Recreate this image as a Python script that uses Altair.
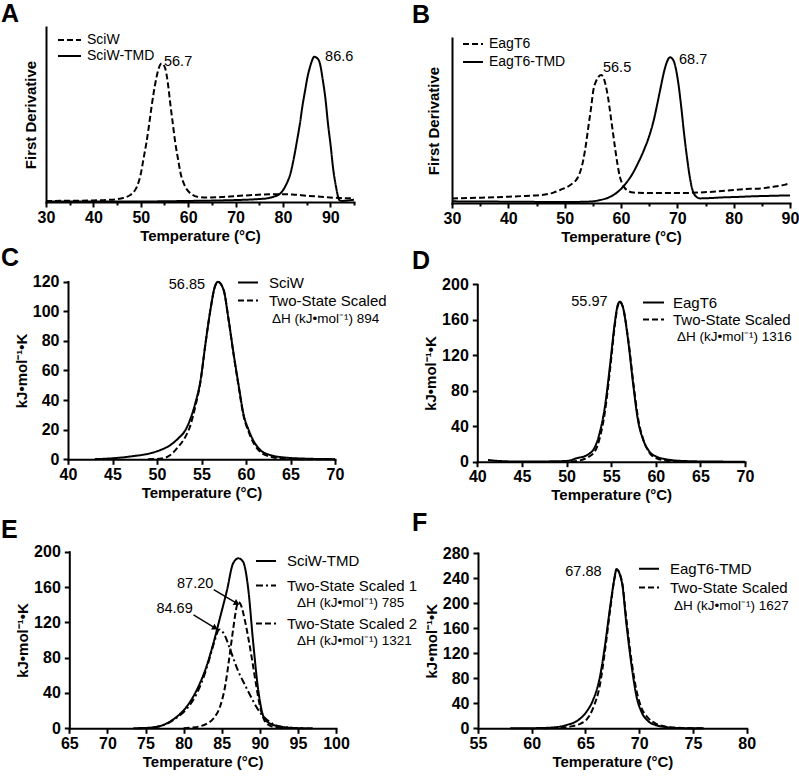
import altair as alt
import pandas as pd

FONT = "Liberation Sans"
INK = "black"

# line styles
SOLID = [1, 0]
DASHED = [6, 3]
DASH_DOT = [7, 3, 2, 3]

# ---------------- A: first derivative, SciW / SciW-TMD ----------------
a_t_sciw = [30, 35, 40, 43, 45, 46.5, 47.8, 48.6, 49.2, 50.0, 50.6, 51.2, 51.7, 52.2, 52.7,
            53.3, 53.8, 54.4, 55.0, 55.4, 55.9, 56.3, 56.8, 57.3, 57.9, 58.4, 59.1, 59.8, 60.8,
            61.9, 64, 67, 70, 73, 76, 79, 82, 85, 88, 91, 95]
a_sciw = [0.6, 0.7, 0.9, 1.2, 1.6, 2.5, 4.0, 6.0, 8.8, 16, 25, 34, 43, 53, 62,
          71, 76.5, 79.2, 77.5, 73.5, 64, 54.5, 44, 33.5, 24, 16.4, 10.5, 6.9, 4.3,
          3.0, 2.6, 2.8, 3.4, 3.9, 4.3, 4.5, 4.3, 3.6, 3.0, 2.4, 2.1]
a_t_tmd = [30, 40, 50, 60, 65, 70, 73, 75, 76.7, 78, 79.5, 80.6, 81.6, 82.3, 83.0, 83.6, 84.1,
           84.7, 85.2, 85.7, 86.1, 86.6, 87.3, 87.8, 88.4, 89.0, 89.5, 90.1, 90.6, 91.2, 91.6,
           91.9, 92.5, 93.5, 95]
a_tmd = [0.3, 0.3, 0.3, 0.6, 0.8, 1.1, 1.4, 1.7, 2.1, 3.0, 5.0, 9.5, 16.4, 25, 35.4, 45, 54.5,
         64, 71.6, 77, 80.5, 83, 82, 79.2, 70, 58.3, 45, 31.6, 19, 8.8, 3.5,
         1.1, 0.6, 0.8, 1.3]
a_note_t = [54.9, 88.9]
a_note_v = [80, 82.9]
a_note_txt = ["56.7", "86.6"]

# ---------------- B: first derivative, EagT6 / EagT6-TMD ----------------
b_t_eag = [30, 35, 40, 43, 45.7, 48, 49.2, 51.0, 52.4, 53.3, 53.8, 54.2, 54.7, 55.1, 55.6,
           56.0, 56.5, 56.9, 57.2, 57.7, 58.1, 58.6, 59.0, 59.4, 59.8, 60.4, 61.0, 62.2, 65,
           70, 74, 77, 80, 83, 85, 87, 89, 90]
b_eag = [2.8, 3.2, 3.8, 4.3, 4.8, 6.3, 7.9, 10.9, 15.9, 26, 36, 46, 58, 68.5, 74,
         76.5, 77.6, 76, 72.5, 64, 54.4, 42, 32, 23, 15.9, 10.5, 7.9, 6.3, 6.0,
         6.0, 6.4, 7.0, 7.9, 8.6, 8.9, 9.8, 11.0, 11.9]
b_t_tmd = [30, 40, 50, 54, 56.3, 58.1, 60.0, 61.0, 62.0, 63.0, 64.0, 65.0, 65.8, 66.5,
           67.1, 67.6, 68.1, 68.7, 69.3, 69.7, 70.2, 70.7, 71.2, 71.7, 72.2, 72.6, 73.1,
           74.0, 76, 78, 80, 83, 86, 90]
b_tmd = [1.0, 0.8, 0.6, 0.8, 1.8, 3.8, 8.5, 12.5, 17.5, 24, 31.5, 40.5, 50, 61,
         71, 79, 85, 88.3, 86.5, 82, 72, 58, 42, 28, 16, 9, 4.8,
         2.8, 3.0, 3.4, 3.6, 4.0, 4.3, 4.6]
b_note_t = [56.8, 70.3]
b_note_v = [81.8, 86.7]
b_note_txt = ["56.5", "68.7"]

# ---------------- C: DSC, SciW with two-state fit ----------------
c_t_sciw = [43, 45, 47.4, 49.2, 50.4, 51.5, 52.4, 53.2, 53.7, 54.3, 54.9, 55.4, 56.0, 56.5,
            56.85, 57.5, 58.0, 58.6, 59.2, 59.7, 60.3, 60.9, 61.6, 62.7, 64.2, 66.9, 70]
c_sciw = [0.1, 0.7, 2.2, 4.0, 6.3, 9.6, 14.2, 19.8, 26.5, 37.8, 53.5, 76, 100.8, 116.5,
          119.8, 114, 96, 71.5, 49, 31, 19.8, 11.9, 6.3, 2.9, 1.3, 0.4, 0.1]
c_t_fit = [49, 50.5, 51.5, 52.4, 53.2, 53.7, 54.3, 54.9, 55.4, 56.0, 56.5, 56.85, 57.5, 58.0,
           58.6, 59.2, 59.7, 60.3, 60.9, 61.6, 62.7, 64.2, 66, 70]
c_fit = [0.0, 0.5, 2.9, 8.5, 15.3, 22, 35.5, 53, 76, 100.8, 116.5, 119.8, 114, 96,
         71, 48, 30, 18.5, 10.5, 5, 1.8, 0.5, 0.1, 0.0]
c_note_t = [55.4]
c_note_v = [117.6]
c_note_txt = ["56.85"]

# ---------------- D: DSC, EagT6 with two-state fit ----------------
d_t_eag = [41.2, 42.5, 44, 47, 50.0, 51.1, 52.3, 53.2, 53.7, 54.3, 54.9, 55.4, 55.7, 55.97,
           56.3, 56.9, 57.5, 58.0, 58.6, 59.3, 60.1, 61.2, 63.1, 66, 70]
d_eag = [1.9, 0.8, 0.3, 0.3, 0.8, 3.8, 7.5, 17, 32, 62, 111, 156, 175, 180.4,
         174.8, 137, 84.6, 47, 24.5, 11.3, 5.6, 2.7, 0.8, 0.2, 0.0]
d_t_fit = [50.5, 51.5, 52.3, 53.2, 53.7, 54.3, 54.9, 55.4, 55.7, 55.97, 56.3, 56.9, 57.5, 58.0,
           58.6, 59.3, 60.1, 61.2, 62.5, 64]
d_fit = [0.3, 1.5, 4.5, 12, 26, 56, 106, 153, 174, 180, 175, 139, 88, 50,
         25, 10, 3.8, 1.2, 0.3, 0.0]
d_note_t = [54.6]
d_note_v = [180]
d_note_txt = ["55.97"]

# ---------------- E: DSC, SciW-TMD with two two-state components ----------------
e_t_tmd = [73.4, 75.6, 77.8, 79.1, 80.4, 81.7, 83.0, 83.9, 84.8, 85.7, 86.5, 87.2, 87.8, 88.5,
           89.1, 89.8, 90.5, 91.3, 92.7, 94.4, 96]
e_tmd = [0.0, 0.7, 5.6, 13, 24.5, 43, 70, 96, 126, 156.6, 186.9, 192.5, 188.7, 156.6,
         100, 43, 13, 5.6, 1.9, 0.4, 0.0]
e_t_fit1 = [74, 76, 78, 79.1, 80.4, 81.7, 82.5, 83.3, 84.0, 84.69, 85.3, 86.0, 86.5, 87.2, 88.0,
            88.7, 89.5, 90.2, 90.9, 91.8, 93.1, 95, 97]
e_fit1 = [0.0, 1.0, 6.0, 12, 22, 39, 55, 76, 97, 112, 107, 92, 80, 64, 50,
          38, 25, 16, 10, 4.5, 1.5, 0.3, 0.0]
e_t_fit2 = [80, 81, 82, 83, 84, 84.8, 85.5, 86.0, 86.5, 87.0, 87.2, 87.5, 88.0, 88.5, 89.0,
            89.5, 90.0, 90.5, 91.0, 92.0, 93]
e_fit2 = [0.0, 0.8, 2.0, 5.0, 12, 25, 50, 80, 112, 139, 143, 140, 124, 102, 77,
          50, 26, 11, 4.5, 1.0, 0.0]
e_note_t = [83.9, 81.2]
e_note_v = [163.4, 135]
e_note_txt = ["87.20", "84.69"]
# leader arrows from the Tm labels to the component peaks
e_arrow_t = [83.95, 81.3]
e_arrow_v = [157, 128.5]
e_arrow_t2 = [87.0, 84.15]
e_arrow_v2 = [141.5, 113.5]
e_arrow_angle = [29, 32]

# ---------------- F: DSC, EagT6-TMD with two-state fit ----------------
f_t_tmd = [58, 60, 61.7, 63.25, 64.2, 65.1, 65.7, 66.35, 66.8, 67.3, 67.7, 67.88, 68.4, 68.8,
           69.3, 69.75, 70.2, 70.8, 71.6, 72.55, 74, 76]
f_tmd = [0.0, 0.2, 1.0, 5.3, 11.7, 26.6, 45, 82.6, 130.6, 194.6, 240, 254, 232, 168,
         98.6, 50.6, 26.6, 12, 4.7, 1.9, 0.3, 0.0]
f_t_fit = [61, 62.5, 63.8, 64.6, 65.1, 65.7, 66.35, 66.8, 67.3, 67.7, 67.88, 68.4, 68.8, 69.3,
           69.75, 70.2, 70.8, 71.6, 72.5, 74, 76]
f_fit = [0.0, 0.8, 3.5, 8, 14, 32, 70, 122, 190, 240, 254, 234, 175, 106,
         60, 33, 17, 7, 2.5, 0.5, 0.0]
f_note_t = [66.5]
f_note_v = [250]
f_note_txt = ["67.88"]

TEMP_TITLE = "Temperature (°C)"
CP_TITLE = "kJ•mol⁻¹•K"


def x_axis(offset, values, labels=True, tick=5, domain=True, title=TEMP_TITLE):
    return alt.Axis(
        values=values, orient="bottom", offset=offset, grid=False, labels=labels, domain=domain,
        domainColor=INK, domainWidth=2, domainCap="square", tickColor=INK, tickWidth=2,
        tickSize=tick, labelFont=FONT, labelFontSize=16, labelFontWeight="bold",
        labelColor=INK, labelPadding=2, labelFlush=False, labelOverlap=False,
        title=title, titleFont=FONT, titleFontSize=15, titleFontWeight="bold",
        titleColor=INK, titlePadding=3,
    )


def y_axis(offset, title, values=None, title_pad=3):
    opts = dict(
        orient="left", offset=offset, grid=False, domainColor=INK, domainWidth=2,
        domainCap="square", tickColor=INK, tickWidth=2, tickSize=5, labelFont=FONT,
        labelFontSize=16, labelFontWeight="bold", labelColor=INK, labelPadding=4,
        labelFlush=False, labelOverlap=False, title=title, titleFont=FONT,
        titleFontSize=15, titleFontWeight="bold", titleColor=INK, titlePadding=title_pad,
    )
    if values is None:
        opts.update(labels=False, ticks=False)
    else:
        opts.update(values=values)
    return alt.Axis(**opts)


def key(x, y, length, gap, size=15):
    return alt.Legend(
        orient="none", legendX=x, legendY=y, title=None, symbolType="stroke",
        symbolSize=length * length, symbolStrokeWidth=2, symbolStrokeColor=INK,
        labelFont=FONT, labelFontSize=size, labelColor=INK, labelOffset=gap, padding=0,
    )


def curve(temps, vals, name, dash, xs, ys, legend, xa=None, ya=None):
    df = pd.DataFrame({"t": temps, "v": vals, "series": name})
    return alt.Chart(df).mark_line(color=INK, strokeWidth=2, interpolate="monotone").encode(
        x=alt.X("t:Q", scale=xs, axis=xa),
        y=alt.Y("v:Q", scale=ys, axis=ya),
        strokeDash=alt.StrokeDash("series:N", scale=alt.Scale(domain=[name], range=[dash]),
                                  legend=legend),
    )


def notes(temps, vals, texts, xs, ys, align):
    df = pd.DataFrame({"t": temps, "v": vals, "label": texts})
    return alt.Chart(df).mark_text(font=FONT, fontSize=14.5, color=INK, align=align,
                                   baseline="middle").encode(
        x=alt.X("t:Q", scale=xs, axis=None),
        y=alt.Y("v:Q", scale=ys, axis=None),
        text="label:N",
    )


def caption(text, px, py):
    return alt.Chart(pd.DataFrame({"c": [text]})).mark_text(
        font=FONT, fontSize=13.5, color=INK, align="left", baseline="middle"
    ).encode(text="c:N", x=alt.value(px), y=alt.value(py))


def tag(letter, px, py):
    return alt.Chart(pd.DataFrame({"tag": [letter]})).mark_text(
        font=FONT, fontSize=25, fontWeight="bold", color=INK, align="left", baseline="alphabetic"
    ).encode(text="tag:N", x=alt.value(px), y=alt.value(py))


def panel(layers, w, h):
    return (
        alt.layer(*layers)
        .resolve_scale(strokeDash="independent")
        .resolve_legend(strokeDash="independent")
        .resolve_axis(x="independent", y="independent")
        .properties(width=w, height=h)
    )


def lin(domain, rng):
    return alt.Scale(domain=domain, range=rng, nice=False, zero=False)


# ---- A ----
xs = lin([30, 95], [46, 354])
ys = lin([0, 100], [202, 27])
panel_a = panel([
    curve(a_t_sciw, a_sciw, "SciW", DASHED, xs, ys, key(57, 27.5, 23, 5, 14),
          x_axis(-43, [30, 40, 50, 60, 70, 80, 90]), y_axis(-46, "First Derivative", title_pad=8)),
    curve(a_t_tmd, a_tmd, "SciW-TMD", SOLID, xs, ys, key(57, 43.5, 23, 5, 14),
          x_axis(-43, [35, 45, 55, 65, 75, 85, 95], labels=False, tick=3, domain=False, title=None)),
    notes(a_note_t, a_note_v, a_note_txt, xs, ys, "left"),
    tag("A", 1, 22),
], 400, 245)

# ---- B ----
xs = lin([30, 90], [52, 390])
ys = lin([0, 100], [203, 38])
panel_b = panel([
    curve(b_t_eag, b_eag, "EagT6", DASHED, xs, ys, key(62, 33, 20, 5, 14),
          x_axis(-42, [30, 40, 50, 60, 70, 80, 90]), y_axis(-52, "First Derivative", title_pad=11)),
    curve(b_t_tmd, b_tmd, "EagT6-TMD", SOLID, xs, ys, key(62, 51, 20, 5, 14),
          x_axis(-42, [35, 45, 55, 65, 75, 85], labels=False, tick=3, domain=False, title=None)),
    notes(b_note_t, b_note_v, b_note_txt, xs, ys, "left"),
    tag("B", 12, 23),
], 399, 245)

# ---- C ----
xs = lin([40, 70], [68, 335])
ys = lin([0, 120], [214.3, 36.5])
panel_c = panel([
    curve(c_t_sciw, c_sciw, "SciW", SOLID, xs, ys, key(237, 26.5, 20, 10),
          x_axis(-50.7, [40, 45, 50, 55, 60, 65, 70]),
          y_axis(-68, CP_TITLE, [0, 20, 40, 60, 80, 100, 120])),
    curve(c_t_fit, c_fit, "Two-State Scaled", DASHED, xs, ys, key(237, 44.5, 20, 10)),
    notes(c_note_t, c_note_v, c_note_txt, xs, ys, "right"),
    caption("ΔH (kJ•mol⁻¹) 894", 272, 73.5),
    tag("C", 1, 21),
], 400, 265)

# ---- D ----
xs = lin([40, 70], [77.3, 345])
ys = lin([0, 200], [216.7, 39.3])
panel_d = panel([
    curve(d_t_eag, d_eag, "EagT6", SOLID, xs, ys, key(242, 46, 21, 8),
          x_axis(-48.3, [40, 45, 50, 55, 60, 65, 70]),
          y_axis(-77.3, CP_TITLE, [0, 40, 80, 120, 160, 200])),
    curve(d_t_fit, d_fit, "Two-State Scaled", DASHED, xs, ys, key(242, 63, 21, 8)),
    notes(d_note_t, d_note_v, d_note_txt, xs, ys, "right"),
    caption("ΔH (kJ•mol⁻¹) 1316", 277, 91.5),
    tag("D", 12, 24),
], 399, 265)

# ---- E ----
xs = lin([65, 100], [69.3, 336])
ys = lin([0, 200], [218.3, 41.7])
arrows = pd.DataFrame({"t": e_arrow_t, "v": e_arrow_v, "t2": e_arrow_t2, "v2": e_arrow_v2,
                       "ang": e_arrow_angle})
arrow_lines = alt.Chart(arrows).mark_rule(color=INK, strokeWidth=1.3).encode(
    x=alt.X("t:Q", scale=xs, axis=None), y=alt.Y("v:Q", scale=ys, axis=None),
    x2="t2:Q", y2="v2:Q")
arrow_heads = alt.Chart(arrows).mark_point(shape="triangle-right", filled=True, color=INK,
                                           size=45, opacity=1).encode(
    x=alt.X("t2:Q", scale=xs, axis=None), y=alt.Y("v2:Q", scale=ys, axis=None),
    angle=alt.Angle("ang:Q", scale=None))
panel_e = panel([
    curve(e_t_tmd, e_tmd, "SciW-TMD", SOLID, xs, ys, key(255, 40, 20, 10),
          x_axis(-49.7, [65, 70, 75, 80, 85, 90, 95, 100]),
          y_axis(-69.3, CP_TITLE, [0, 40, 80, 120, 160, 200])),
    curve(e_t_fit1, e_fit1, "Two-State Scaled 1", DASH_DOT, xs, ys, key(255, 64.5, 20, 10)),
    curve(e_t_fit2, e_fit2, "Two-State Scaled 2", DASHED, xs, ys, key(255, 102.5, 20, 10)),
    arrow_lines,
    arrow_heads,
    notes(e_note_t, e_note_v, e_note_txt, xs, ys, "right"),
    caption("ΔH (kJ•mol⁻¹) 785", 297, 92.5),
    caption("ΔH (kJ•mol⁻¹) 1321", 297, 130.5),
    tag("E", 1, 28),
], 400, 268)

# ---- F ----
xs = lin([55, 80], [78, 346.7])
ys = lin([0, 280], [218.3, 43])
panel_f = panel([
    curve(f_t_tmd, f_tmd, "EagT6-TMD", SOLID, xs, ys, key(238, 47.7, 20, 10),
          x_axis(-49.7, [55, 60, 65, 70, 75, 80]),
          y_axis(-78, CP_TITLE, [0, 40, 80, 120, 160, 200, 240, 280])),
    curve(f_t_fit, f_fit, "Two-State Scaled", DASHED, xs, ys, key(238, 66.5, 20, 10)),
    notes(f_note_t, f_note_v, f_note_txt, xs, ys, "right"),
    caption("ΔH (kJ•mol⁻¹) 1627", 274, 95.5),
    tag("F", 12, 21),
], 399, 268)

chart = (
    alt.concat(panel_a, panel_b, panel_c, panel_d, panel_e, panel_f,
               columns=2, spacing=0, bounds="flush")
    .properties(padding=0)
    .configure_view(stroke=None)
)

chart.save("out.html", embed_options={"renderer": "svg", "actions": False})
